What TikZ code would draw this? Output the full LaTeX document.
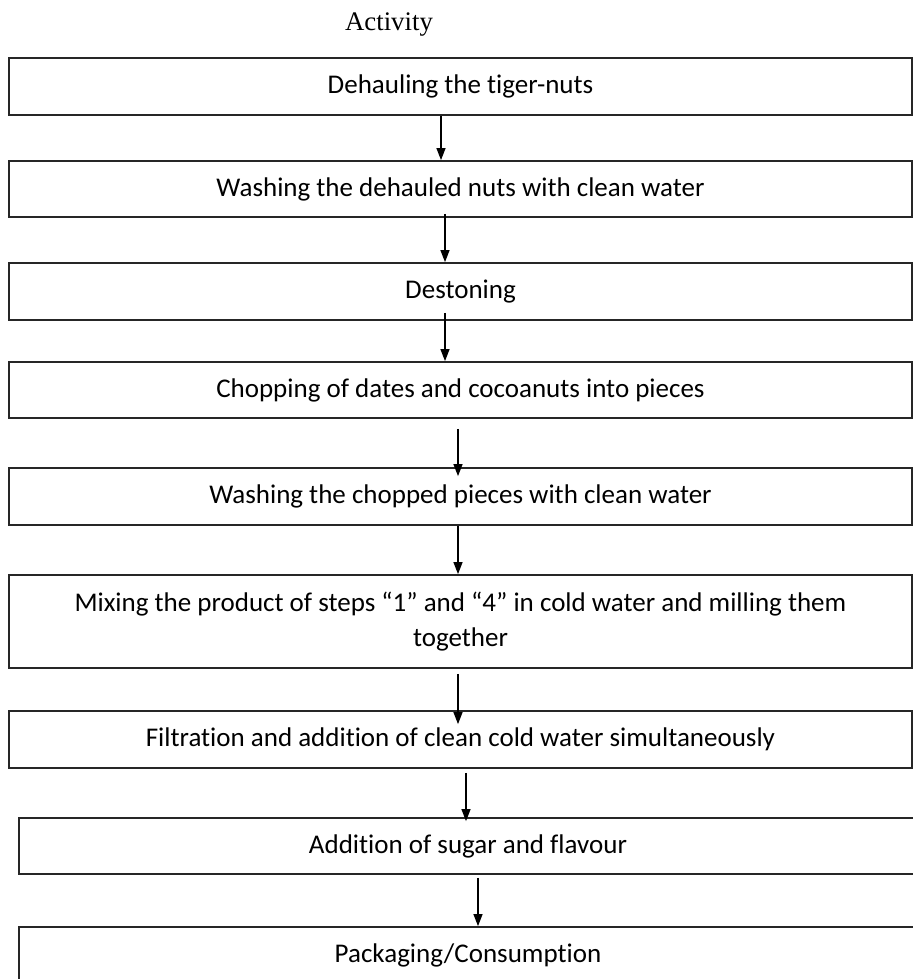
\documentclass[tikz,border=0pt]{standalone}
\usepackage{fontspec}
\setmainfont{Carlito}[Ligatures=NoCommon]
\newfontfamily\headfont{Liberation Serif}
\usetikzlibrary{positioning, arrows.meta}

\begin{document}
\begin{tikzpicture}[
      x=0.5pt, y=-0.5pt,
      box/.style={draw=black!85, line width=0.9pt, minimum width=451.5pt,
        minimum height=28.5pt, inner sep=0pt, align=center,
        font=\fontsize{13.5}{17.5}\selectfont},
      arr/.style={line width=0.6pt, -{Triangle[width=4.5pt,length=6pt]}}
    ]
    \path[use as bounding box] (0,0) rectangle (913,979);
    \clip (0,0) rectangle (913,979);
    % heading
    \node (head) at (389,25) {\headfont\fontsize{13.4}{15}\selectfont Activity};
    % steps
    \node[box] (s1) at (460.5,86.5) {Dehauling the tiger-nuts};
    \node[box, minimum height=28pt] (s2) at (460.5,189) {Washing the dehauled nuts with clean water};
    \node[box] (s3) at (460.5,291.5) {Destoning};
    \node[box, minimum height=28pt] (s4) at (460.5,390) {Chopping of dates and cocoanuts into pieces};
    \node[box] (s5) at (460.5,496.5) {Washing the chopped pieces with clean water};
    \node[box, minimum height=46.5pt] (s6) at (460.5,621.5)
      {Mixing the product of steps “1” and “4” in cold water and milling them\\ together};
    \node[box] (s7) at (460.5,739.5) {Filtration and addition of clean cold water simultaneously};
    \node[box, minimum width=449pt, minimum height=28pt] (s8) at (468,846) {Addition of sugar and flavour};
    \node[box, minimum width=449pt] (s9) at (468,955.5) {Packaging/Consumption};
    % arrows
    \draw[arr] ([xshift=-9.75pt]s1.south) -- ([xshift=-9.75pt]s1.south |- s2.north);
    \draw[arr] ([xshift=-7.75pt,yshift=2pt]s2.south) -- ([xshift=-7.75pt]s2.south |- s3.north);
    \draw[arr] ([xshift=-7.75pt,yshift=4pt]s3.south) -- ([xshift=-7.75pt]s3.south |- s4.north);
    \draw[arr] ([xshift=-1.25pt,yshift=-5pt]s4.south) -- ([xshift=-1.25pt,yshift=-4.5pt]s4.south |- s5.north);
    \draw[arr] ([xshift=-1.25pt]s5.south) -- ([xshift=-1.25pt]s5.south |- s6.north);
    \draw[arr] ([xshift=-1.25pt,yshift=-2.5pt]s6.south) -- ([xshift=-1.25pt,yshift=-7pt]s6.south |- s7.north);
    \draw[arr] ([xshift=2.75pt,yshift=-2pt]s7.south) -- ([xshift=2.75pt,yshift=-2pt]s7.south |- s8.north);
    \draw[arr] ([xshift=5pt,yshift=-1.5pt]s8.south) -- ([xshift=5pt]s8.south |- s9.north);
\end{tikzpicture}
\end{document}
